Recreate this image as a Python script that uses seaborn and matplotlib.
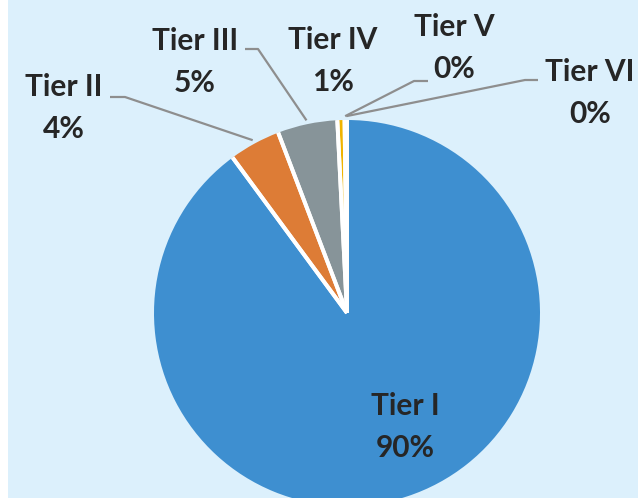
import numpy as np
import matplotlib
matplotlib.use("Agg")
import matplotlib.pyplot as plt
import seaborn as sns

# data
tiers = ["Tier I", "Tier II", "Tier III", "Tier IV", "Tier V", "Tier VI"]
shares = [89.9, 4.3, 5.0, 0.6, 0.1, 0.1]
colors = ["#3E8FD0", "#DD7C36", "#879499", "#F0B400", "#5E7FB8", "#9E480E"]

# label block centres in pixels (x, y from top)
label_px = [(405, 427), (64, 108), (195, 62), (333, 61), (454, 48), (590, 93)]
# leader elbows: (start x, elbow x, y) in pixels, None = no leader
leader_px = [None, (110, 125, 97), (245, 258, 49), None, (428, 414, 81), (538, 525, 80)]

W, H = 638, 498
CX, CY, R = 347, 313, 193
BG = "#DCF0FC"

sns.set_theme(style="white")
plt.rcParams["font.family"] = ["Lato", "DejaVu Sans"]


def px(x, y):
    return (x - CX) / R, (CY - y) / R


fig = plt.figure(figsize=(W / 100, H / 100), dpi=100, facecolor="white")
left = 8 / W
ax = fig.add_axes([left, 0, 1 - left, 1])
ax.set_facecolor(BG)

wedges, _ = ax.pie(shares, colors=colors, startangle=90, counterclock=False,
                   radius=1, center=(0, 0), wedgeprops=dict(linewidth=0))

# white separators between slices only (no outer outline)
for w in wedges:
    for th in (w.theta1, w.theta2):
        t = np.deg2rad(th)
        ax.plot([0, np.cos(t)], [0, np.sin(t)], color="white", lw=2.8,
                solid_capstyle="butt", zorder=3)

x0, _ = px(8, 0)
x1, _ = px(W, 0)
_, y1 = px(0, 0)
_, y0 = px(0, H)
ax.set_xlim(x0, x1)
ax.set_ylim(y0, y1)
ax.set_aspect("auto")
ax.axis("off")
ax.add_patch(plt.Rectangle((x0, y0), x1 - x0, y1 - y0, color=BG, zorder=-5))

for i, (w, name, val) in enumerate(zip(wedges, tiers, shares)):
    lx, ly = px(*label_px[i])
    ax.text(lx, ly, f"{name}\n{round(val):.0f}%", ha="center", va="center",
            multialignment="center", fontsize=21.5, fontweight="bold",
            color="#262626", linespacing=1.6, zorder=10)
    if leader_px[i] is not None:
        sx, ex, yy = leader_px[i]
        mid = np.deg2rad((w.theta1 + w.theta2) / 2)
        tx, ty = 1.02 * np.cos(mid), 1.02 * np.sin(mid)
        ax_, ay_ = px(sx, yy)
        bx_, by_ = px(ex, yy)
        ax.plot([ax_, bx_, tx], [ay_, by_, ty], color="#8E8E8E", lw=1.6,
                solid_capstyle="butt", zorder=4)

fig.savefig("out.png", dpi=100, facecolor=fig.get_facecolor())
